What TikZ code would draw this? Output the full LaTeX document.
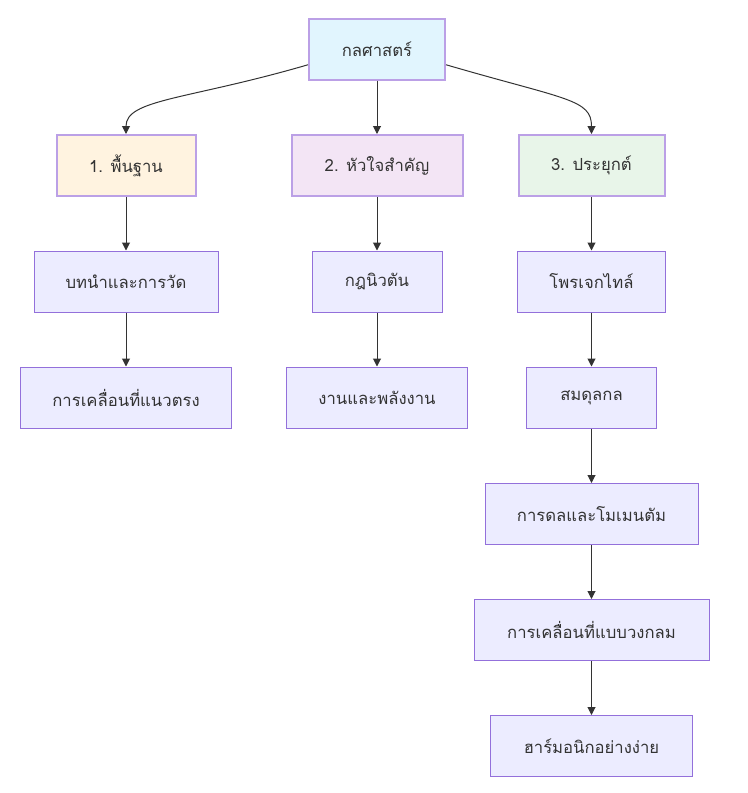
\documentclass[tikz,border=0pt]{standalone}
\usepackage{fontspec}
\newfontfamily\thaifont[Script=Thai]{Loma}
\usetikzlibrary{arrows.meta,calc}
\definecolor{edgec}{HTML}{333333}
\definecolor{txtc}{HTML}{333333}
\definecolor{defill}{HTML}{ECECFF}
\definecolor{destroke}{HTML}{9370DB}
\definecolor{hlstroke}{HTML}{BBA0E6}
\definecolor{rootfill}{HTML}{E1F5FE}
\definecolor{onefill}{HTML}{FFF3E0}
\definecolor{twofill}{HTML}{F3E5F5}
\definecolor{threefill}{HTML}{E8F5E9}
\tikzset{
  box/.style={draw=destroke, fill=defill, line width=0.75pt, minimum height=45.75pt,
    inner sep=0pt, font=\thaifont\fontsize{12.5}{14}\selectfont, text=txtc},
  hlbox/.style={box, draw=hlstroke, line width=1.5pt},
  link/.style={draw=edgec, line width=0.75pt, -{Triangle[length=6pt,width=6pt]}}
}
\begin{document}
\begin{tikzpicture}[x=0.75pt,y=-0.75pt]
\useasboundingbox (0,0) rectangle (748,793);
\node[hlbox, fill=rootfill, minimum width=102pt] (root) at (377,49) {กลศาสตร์};
\node[hlbox, fill=onefill, minimum width=104.25pt] (n1) at (126,165.5) {1. พื้นฐาน};
\node[hlbox, fill=twofill, minimum width=128.25pt] (n2) at (377,165.5) {2. หัวใจสำคัญ};
\node[hlbox, fill=threefill, minimum width=109.5pt] (n3) at (591.5,165.5) {3. ประยุกต์};
\node[box, minimum width=138pt] (a1) at (126,281.5) {บทนำและการวัด};
\node[box, minimum width=158.25pt] (a2) at (126,397.5) {การเคลื่อนที่แนวตรง};
\node[box, minimum width=97.5pt] (b1) at (377,281.5) {กฎนิวตัน};
\node[box, minimum width=135.75pt] (b2) at (377,397.5) {งานและพลังงาน};
\node[box, minimum width=111pt] (c1) at (591.5,281.5) {โพรเจกไทล์};
\node[box, minimum width=97.5pt] (c2) at (591.5,397.5) {สมดุลกล};
\node[box, minimum width=159.75pt] (c3) at (591.5,514) {การดลและโมเมนตัม};
\node[box, minimum width=176.25pt] (c4) at (591.5,630) {การเคลื่อนที่แบบวงกลม};
\node[box, minimum width=151.5pt] (c5) at (591.5,746) {ฮาร์มอนิกอย่างง่าย};
\draw[link] ($(root.south west)!0.5!(root.west)$) .. controls +(-120,35) and +(0,-35) .. (n1.north);
\draw[link] (root.south) -- (n2.north);
\draw[link] ($(root.south east)!0.5!(root.east)$) .. controls +(120,35) and +(0,-35) .. (n3.north);
\draw[link] (n1.south) -- (a1.north);
\draw[link] (a1.south) -- (a2.north);
\draw[link] (n2.south) -- (b1.north);
\draw[link] (b1.south) -- (b2.north);
\draw[link] (n3.south) -- (c1.north);
\draw[link] (c1.south) -- (c2.north);
\draw[link] (c2.south) -- (c3.north);
\draw[link] (c3.south) -- (c4.north);
\draw[link] (c4.south) -- (c5.north);
\end{tikzpicture}
\end{document}
